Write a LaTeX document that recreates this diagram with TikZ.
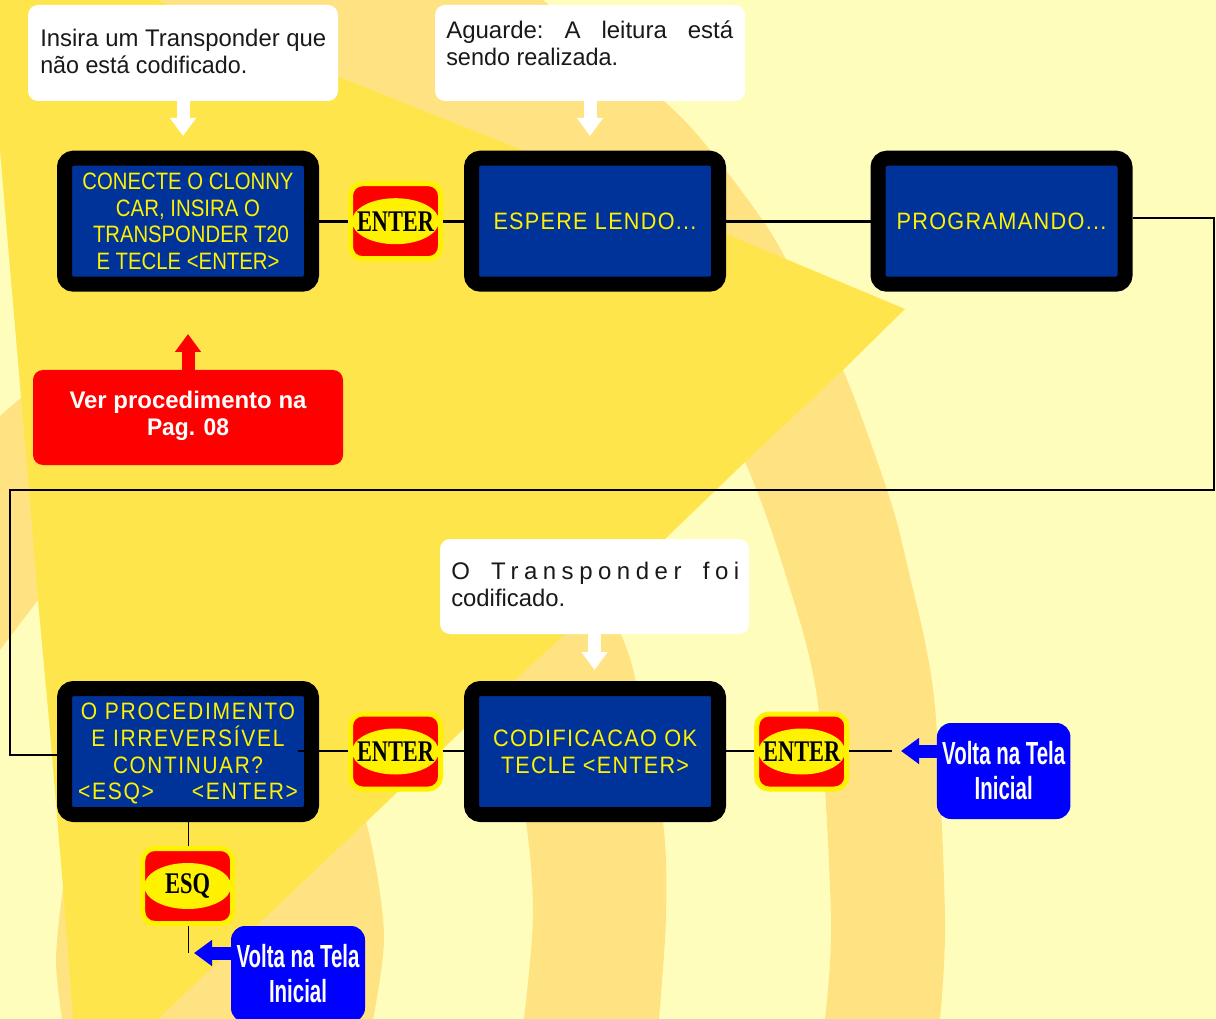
\documentclass[tikz,border=0pt]{standalone}
\usepackage{fontspec}
\usepackage{graphicx}
\setmainfont{Liberation Sans}
\newfontfamily\serifbtn{Liberation Serif}[BoldFont={Liberation Serif Bold}]
\usetikzlibrary{shapes.geometric,arrows.meta}
\newlength\pxu \setlength\pxu{0.75pt}
\definecolor{pale}{HTML}{FFFDBB}
\definecolor{band}{HTML}{FFE382}
\definecolor{sun}{HTML}{FFE54C}
\definecolor{lcdblue}{HTML}{003399}
\newcommand{\fitw}[2]{\resizebox{#1\pxu}{\height}{#2}}
\tikzset{
  lcd/.style={rectangle,draw=black,fill=lcdblue,line width=15\pxu,rounded corners=9\pxu,
    minimum width=247\pxu,minimum height=126\pxu,inner sep=0pt,text=yellow,align=center,
    font=\fontsize{17.8pt}{20pt}\selectfont},
  callout/.style={rectangle,fill=white,rounded corners=10\pxu,minimum width=310\pxu,minimum height=96\pxu,inner sep=0pt},
  calltext/.style={inner sep=0pt,align=left,anchor=west,text=black!90,font=\fontsize{18pt}{20.25pt}\selectfont},
  redbox/.style={rectangle,fill=red,rounded corners=10\pxu,minimum width=310\pxu,minimum height=95\pxu,inner sep=0pt},
  redtext/.style={inner sep=0pt,text=white,align=center,font=\fontsize{18pt}{20.25pt}\selectfont\bfseries},
  bluebox/.style={rectangle,fill=blue,rounded corners=14\pxu,minimum width=134\pxu,minimum height=96\pxu,inner sep=0pt,
    text=white,align=center,font=\fontsize{24pt}{26.25pt}\selectfont\bfseries},
  btn/.style={rectangle,draw=yellow,fill=red,line width=5\pxu,rounded corners=12\pxu,minimum width=90\pxu,minimum height=75\pxu,inner sep=0pt},
  btnoval/.style={ellipse,fill=yellow,minimum width=87\pxu,minimum height=46\pxu,inner xsep=-14\pxu,inner ysep=-6\pxu,text=black,
    font=\serifbtn\bfseries\fontsize{22.5pt}{24pt}\selectfont},
  link/.style={draw=black,line width=2.7\pxu},
  route/.style={draw=black,line width=2.5\pxu},
  thin link/.style={draw=black,line width=1\pxu},
  blockw/.style={draw=white,line width=13\pxu,-{Triangle[length=13.5pt,width=18.75pt,fill=white]}},
  blockr/.style={draw=red,line width=13\pxu,-{Triangle[length=13.5pt,width=18.75pt,fill=red]}},
  blockb/.style={draw=blue,line width=13\pxu,-{Triangle[length=13.5pt,width=18.75pt,fill=blue]}},
}
\begin{document}
\begin{tikzpicture}[x=0.75pt,y=-0.75pt]
\useasboundingbox (0,0) rectangle (1216,1019);
% background
\fill[pale] (0,0) rectangle (1216,1019);
\fill[band] plot[smooth] coordinates {(543,0) (665,102) (710,150) (761,218) (787,261) (843,370) (887,490) (906,560) (934,697) (945,917) (940,1019)}
  -- plot[smooth] coordinates {(825,1019) (831,917) (817,697) (781,560) (745,462) (700,380)} -- (300,200) -- (100,0) -- cycle;
\fill[band] plot[smooth] coordinates {(659,1019) (666,917) (663,822) (636,682) (621,634) (590,560)}
  -- (480,560) -- plot[smooth] coordinates {(500,690) (526,822) (533,917) (524,1019)} -- cycle;
\fill[band] plot[smooth] coordinates {(373,1019) (384,933) (366,822) (330,750)}
  -- (100,750) -- plot[smooth] coordinates {(72,850) (63,888) (56,960) (62,1019)} -- cycle;
\fill[band] (0,416) -- (22,397) -- (80,400) -- (80,600) -- (38,600) -- (0,650) -- cycle;
\fill[sun] (0,0) -- (157,0) -- (339,77) -- (517,148) -- (726,234) -- (905,309) -- (843,370) -- (745,462) -- (665,539) -- (565,634) -- (513,682) -- (366,822) -- (158,1019)
  -- (73,1019) -- (63,887) -- (49,720) -- (38,600) -- (29,490) -- (11,280) -- (0,150) -- cycle;
% callouts
\node[callout] (c1) at (183,53) {};
\node[calltext] (c1t) at (40,51.5) {\fitw{286}{Insira um Transponder que}\\\fitw{207}{não está codificado.}};
\node[callout] (c2) at (590,53) {};
\node[calltext] (c2t) at (446,43) {\makebox[287\pxu][s]{Aguarde:\hfill A\hfill leitura\hfill está}\\\fitw{172}{sendo realizada.}};
\node[callout,minimum width=309\pxu,minimum height=95\pxu] (c3) at (594.5,586.5) {};
\node[calltext] (c3t) at (451,584.5) {\makebox[288\pxu][s]{\addfontfeatures{LetterSpace=23}O\hfill Transponder\hfill foi}\\\fitw{114}{codificado.}};
\node[redbox] (rb) at (188,417.5) {};
\node[redtext] (rbt) at (188,415.5) {\fitw{237}{Ver procedimento na}\\\fitw{82}{Pag. 08}};
% displays
\node[lcd] (b1) at (188,221.2) {\fitw{211}{CONECTE O CLONNY}\\\fitw{144}{CAR, INSIRA O}\\\hspace*{6\pxu}\fitw{196}{TRANSPONDER T20}\\\fitw{183}{E TECLE <ENTER>}};
\node[lcd] (b2) at (595,221.2) {\fitw{203}{\addfontfeatures{LetterSpace=6}ESPERE LENDO...}};
\node[lcd] (b3) at (1001.5,221.2) {\fitw{210}{\addfontfeatures{LetterSpace=6}PROGRAMANDO...}};
\node[lcd] (b4) at (188,751.5) {\rule{0pt}{16pt}\fitw{214}{\addfontfeatures{LetterSpace=8}O PROCEDIMENTO}\\\fitw{193}{\addfontfeatures{LetterSpace=8}E IRREVERSÍVEL}\\\fitw{150}{\addfontfeatures{LetterSpace=8}CONTINUAR?}\\\makebox[220\pxu]{\fitw{76}{\addfontfeatures{LetterSpace=8}<ESQ>}\hfill\fitw{106}{\addfontfeatures{LetterSpace=8}<ENTER>}}};
\node[lcd] (b5) at (595,751.5) {\fitw{204}{\addfontfeatures{LetterSpace=6}CODIFICACAO OK}\\\fitw{188}{\addfontfeatures{LetterSpace=6}TECLE <ENTER>}};
% buttons
\node[btn] (e1) at (395.5,221.2) {};
\node[btnoval] (e1o) at (e1) {\fitw{77}{ENTER}};
\node[btn] (e2) at (395.5,751.5) {};
\node[btnoval] (e2o) at (e2) {\fitw{77}{ENTER}};
\node[btn] (e3) at (801.7,751.5) {};
\node[btnoval] (e3o) at (e3) {\fitw{77}{ENTER}};
\node[btn] (e4) at (187.7,886) {};
\node[btnoval] (e4o) at (e4) {\fitw{45}{ESQ}};
% return boxes
\node[bluebox,minimum width=133.5\pxu] (v1) at (1003.7,771) {\fitw{123}{Volta na Tela}\\\fitw{58}{Inicial}};
\node[bluebox] (v2) at (298,974) {\fitw{123}{Volta na Tela}\\\fitw{58}{Inicial}};
% free ends
\coordinate (t1) at (183,136);
\coordinate (t2) at (590,136);
\coordinate (t3) at (594.5,670);
\coordinate (t4) at (188,334);
\coordinate (t5) at (901,751);
\coordinate (t6) at (194,953);
\coordinate (r1) at (1214,218);
\coordinate (r2) at (1214,490);
\coordinate (r3) at (10,490);
\coordinate (r4) at (10,755);
\coordinate (s1) at (298,751);
\coordinate (s2) at (892,751);
\coordinate (s3) at (188,953);
% block arrows
\draw[blockw] (c1.south) -- (t1);
\draw[blockw] (c2.south) -- (t2);
\draw[blockw] (c3.south) -- (t3);
\draw[blockr] (rb.north) -- (t4);
\draw[blockb] (v1.west |- t5) -- (t5);
\draw[blockb] (v2.west |- t6) -- (t6);
% connectors
\draw[link] (b1.east) -- (e1.west);
\draw[link] (e1.east) -- (b2.west);
\draw[link] (b2.east) -- (b3.west);
\draw[route] (b3.east |- r1) -- (r1) -- (r2) -- (r3) -- (r4) -- (b4.west |- r4);
\draw[link] (s1) -- (e2.west |- s1);
\draw[link] (e2.east |- s1) -- (b5.west |- s1);
\draw[link] (b5.east |- s1) -- (e3.west |- s1);
\draw[link] (e3.east |- s1) -- (s2);
\draw[thin link] (b4.south) -- (e4.north -| b4.south);
\draw[thin link] (e4.south -| s3) -- (s3);
\end{tikzpicture}
\end{document}
